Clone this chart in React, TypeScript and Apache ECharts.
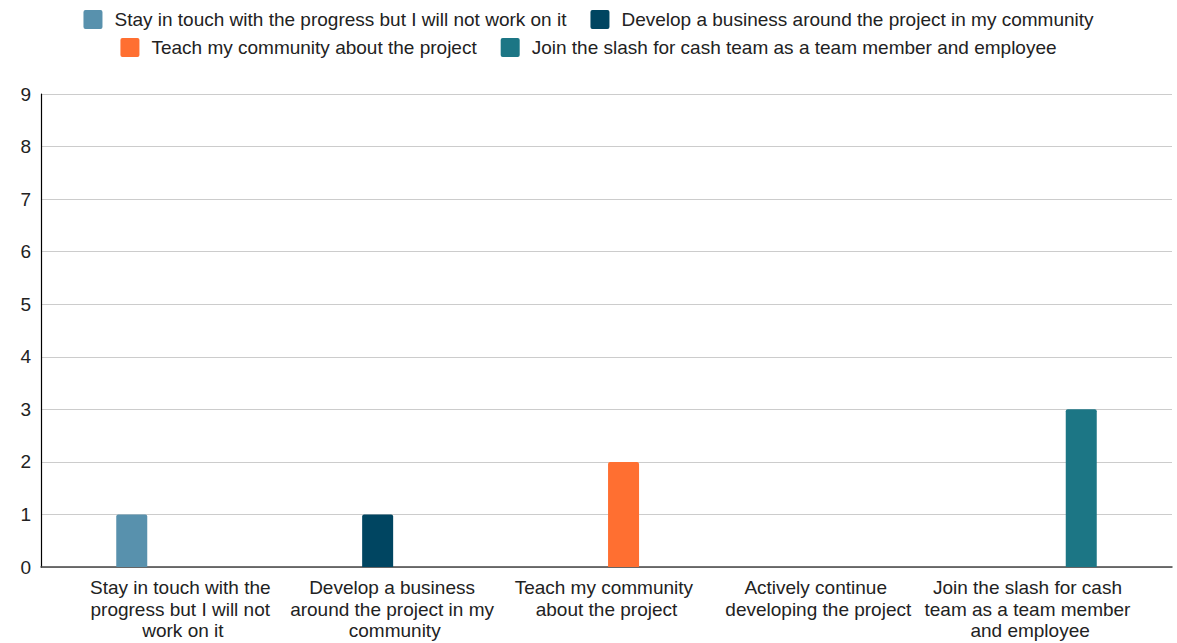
import React, { useEffect, useRef } from "react";
import * as echarts from "echarts";

const categories = [
  "Stay in touch with the progress but I will not work on it",
  "Develop a business around the project in my community",
  "Teach my community about the project",
  "Actively continue developing the project",
  "Join the slash for cash team as a team member and employee",
];

const seriesNames = [
  "Stay in touch with the progress but I will not work on it",
  "Develop a business around the project in my community",
  "Teach my community about the project",
  "Join the slash for cash team as a team member and employee",
];

const stayValues = [1, null, null, null, null];
const developValues = [null, 1, null, null, null];
const teachValues = [null, null, 2, null, null];
const joinValues = [null, null, null, null, 3];

const seriesValues = [stayValues, developValues, teachValues, joinValues];
const colors = ["#5891ad", "#004561", "#ff6f31", "#1c7685"];

const yTicks = [0, 1, 2, 3, 4, 5, 6, 7, 8, 9];

const FONT = "'Liberation Sans', Arial, sans-serif";
const ICON =
  "path://M2,0 H17 A2,2 0 0 1 19,2 V17 A2,2 0 0 1 17,19 H2 A2,2 0 0 1 0,17 V2 A2,2 0 0 1 2,0 Z";

export default function App() {
  const ref = useRef<HTMLDivElement>(null);

  useEffect(() => {
    if (!ref.current) return;
    const chart = echarts.init(ref.current, null, { renderer: "svg" });
    const legendText = {
      fontFamily: FONT,
      fontSize: 19,
      color: "#222222",
      padding: [0, 0, 0, 7],
    };
    chart.setOption({
      animation: false,
      backgroundColor: "#ffffff",
      textStyle: { fontFamily: FONT },
      legend: [
        {
          data: seriesNames.slice(0, 2),
          top: 5,
          left: "center",
          itemWidth: 19,
          itemHeight: 19,
          itemGap: 24,
          icon: ICON,
          textStyle: legendText,
        },
        {
          data: seriesNames.slice(2, 4),
          top: 33,
          left: "center",
          itemWidth: 19,
          itemHeight: 19,
          itemGap: 24,
          icon: ICON,
          textStyle: legendText,
        },
      ],
      grid: [
        { left: 41, right: 5, top: 94, bottom: 76, containLabel: false },
        { left: 77, right: 41, top: 94, bottom: 76, containLabel: false },
      ],
      xAxis: [
        {
          type: "category",
          gridIndex: 0,
          data: [""],
          axisLine: { show: true, lineStyle: { color: "#444444", width: 1.5 } },
          axisTick: { show: false },
          axisLabel: { show: false },
          splitLine: { show: false },
        },
        {
          type: "category",
          gridIndex: 1,
          data: categories,
          axisLine: { show: false },
          axisTick: { show: false },
          axisLabel: {
            show: true,
            interval: 0,
            margin: 10,
            width: 212,
            overflow: "break",
            fontFamily: FONT,
            fontSize: 19,
            lineHeight: 21.5,
            color: "#222222",
            align: "center",
          },
        },
      ],
      yAxis: [
        {
          type: "value",
          gridIndex: 0,
          min: yTicks[0],
          max: yTicks[yTicks.length - 1],
          interval: 1,
          axisLine: { show: true, lineStyle: { color: "#000000", width: 1.2 } },
          axisTick: { show: false },
          axisLabel: {
            margin: 10,
            fontFamily: FONT,
            fontSize: 19,
            color: "#222222",
          },
          splitLine: { show: true, lineStyle: { color: "#cccccc", width: 1 } },
        },
        {
          type: "value",
          gridIndex: 1,
          min: yTicks[0],
          max: yTicks[yTicks.length - 1],
          interval: 1,
          axisLine: { show: false },
          axisTick: { show: false },
          axisLabel: { show: false },
          splitLine: { show: false },
        },
      ],
      series: seriesNames.map((name, i) => ({
        name,
        type: "bar",
        xAxisIndex: 1,
        yAxisIndex: 1,
        data: seriesValues[i],
        barWidth: 31,
        barGap: "10%",
        itemStyle: { color: colors[i], borderRadius: [2, 2, 0, 0] },
      })),
    });
    return () => chart.dispose();
  }, []);

  return <div ref={ref} style={{ width: 1177, height: 643, position: "absolute", left: 0, top: 0 }} />;
}
